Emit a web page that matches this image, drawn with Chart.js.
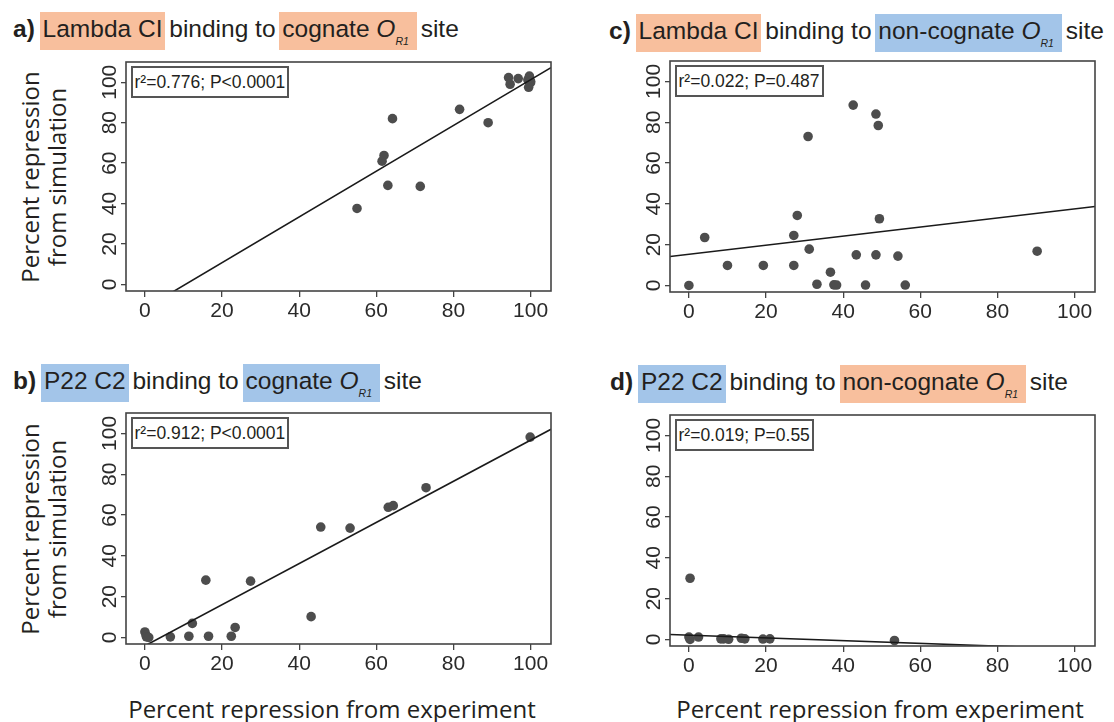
<!DOCTYPE html>
<html>
<head>
<meta charset="utf-8">
<script src="https://cdn.jsdelivr.net/npm/chart.js@4.4.0/dist/chart.umd.min.js"></script>
<style>
  body { margin: 0; background: #fff; width: 1114px; height: 722px; overflow: hidden; position: relative;
         font-family: "Liberation Sans", Arial, sans-serif; color: #231f20; }
  canvas { position: absolute; }
  .title { position: absolute; font-size: 24.5px; line-height: 30px; white-space: nowrap; }
  .title b { margin-right: 1px; }
  .hl { padding: 3px 3px 8px 3px; margin: 0 -3px; }
  .org { background: #f8bf9d; }
  .blu { background: #a3c5e9; }
  .title i { font-style: italic; }
  .title sub { font-size: 10.5px; font-style: italic; vertical-align: -8px; line-height: 0; margin-left: 0; padding-right: 5px; }
  .stat { position: absolute; border: 2px solid #555; font-size: 17.5px; height: 28px; line-height: 28px;
          padding: 0 2px; background: #fff; white-space: nowrap; }
  .ytitle { position: absolute; width: 260px; height: 54px; line-height: 27px; text-align: center;
            font-family: "Open Sans", sans-serif; font-size: 24px; transform: rotate(-90deg); color: #231f20; }
  .xtitle { position: absolute; width: 500px; line-height: 30px; text-align: center;
            font-family: "Open Sans", sans-serif; font-size: 24px; color: #231f20; }
</style>
</head>
<body>
<div class="title" style="left:13px;top:14px"><b>a)</b> <span class="hl org">Lambda CI</span> binding to <span class="hl org">cognate <i>O</i><sub>R1</sub></span> site</div>
<div class="title" style="left:609px;top:16px"><b>c)</b> <span class="hl org">Lambda CI</span> binding to <span class="hl blu">non-cognate <i>O</i><sub>R1</sub></span> site</div>
<div class="title" style="left:13px;top:366px"><b>b)</b> <span class="hl blu">P22 C2</span> binding to <span class="hl blu">cognate <i>O</i><sub>R1</sub></span> site</div>
<div class="title" style="left:610px;top:367px"><b>d)</b> <span class="hl blu">P22 C2</span> binding to <span class="hl org">non-cognate <i>O</i><sub>R1</sub></span> site</div>

<div class="ytitle" style="left:-87px;top:150px">Percent repression<br>from simulation</div>
<div class="ytitle" style="left:-87px;top:502px">Percent repression<br>from simulation</div>
<div class="xtitle" style="left:82px;top:694px">Percent repression from experiment</div>
<div class="xtitle" style="left:630px;top:694px">Percent repression from experiment</div>

<canvas id="ca"></canvas>
<canvas id="cb"></canvas>
<canvas id="cc"></canvas>
<canvas id="cd"></canvas>

<script>
// axis ticks (same on every panel)
const tickValues = [0, 20, 40, 60, 80, 100];
const tickLabels = ['0', '20', '40', '60', '80', '100'];

// a) Lambda CI binding to cognate OR1
const lambdaCognateExp = [55, 63, 64.2, 61.5, 62, 71.4, 81.6, 89, 94.3, 94.7, 96.8, 99.3, 99.7, 100, 99.5, 100];
const lambdaCognateSim = [37.6, 49, 82, 61, 63.8, 48.5, 86.6, 80, 102.3, 99, 101.8, 101.2, 103, 99.8, 97.5, 100.5];

// b) P22 C2 binding to cognate OR1
const p22CognateExp = [0, 0.3, 0.4, 1.0, 6.6, 11.4, 12.3, 15.8, 16.5, 22.4, 23.4, 27.4, 43.1, 45.6, 53.2, 63.1, 64.4, 72.9, 99.9];
const p22CognateSim = [2.7, 1.2, 0.3, 0, 0.3, 0.6, 6.9, 28.1, 0.6, 0.6, 4.9, 27.6, 10.2, 54.1, 53.6, 63.8, 64.6, 73.4, 98.2];

// c) Lambda CI binding to non-cognate OR1
const lambdaNonExp = [0, 4.1, 10, 19.3, 27.2, 27.2, 28.1, 30.9, 31.2, 33.2, 36.7, 37.6, 38.3, 42.6, 43.4, 45.8, 48.5, 49.1, 48.5, 49.4, 54.2, 56.1, 90.3];
const lambdaNonSim = [0, 23.5, 9.8, 9.8, 9.8, 24.5, 34.3, 73, 17.8, 0.6, 6.5, 0.3, 0.2, 88.4, 15, 0.2, 84, 78.4, 15, 32.7, 14.4, 0.2, 16.8];

// d) P22 C2 binding to non-cognate OR1
const p22NonExp = [0.3, 0, 0.3, 2.5, 8.3, 9, 10.3, 13.6, 14.5, 19.2, 21, 53.3];
const p22NonSim = [30, 1.2, 0, 1.2, 0.3, 0.3, 0.1, 0.6, 0.3, 0.2, 0.3, -0.5];

// regression lines (a, b, c, d)
const fitSlope = [1.13, 1.008, 0.2225, -0.067];
const fitIntercept = [-11.8, -4.1, 15.3, 2.1];
const statLabels = ['r\u00b2=0.776; P<0.0001', 'r\u00b2=0.912; P<0.0001', 'r\u00b2=0.022; P=0.487', 'r\u00b2=0.019; P=0.55'];

const xRange = [-4.9, 105.3];
const yRange = [-3.2, 110];

// plot boxes in page pixels
const boxes = [
  { id: 'ca', left: 126, top: 62, right: 551, bottom: 291 },
  { id: 'cb', left: 126, top: 413, right: 551, bottom: 644 },
  { id: 'cc', left: 670, top: 61, right: 1095, bottom: 292 },
  { id: 'cd', left: 670, top: 415, right: 1095, bottom: 646 }
];
const series = [
  [lambdaCognateExp, lambdaCognateSim],
  [p22CognateExp, p22CognateSim],
  [lambdaNonExp, lambdaNonSim],
  [p22NonExp, p22NonSim]
];

const Y_AXIS_W = 70, X_AXIS_H = 34, PAD_TOP = 15, PAD_RIGHT = 18;

Chart.defaults.font.family = '"Liberation Sans", Arial, sans-serif';

// R-style frame round the plot region
const frame = {
  id: 'frame',
  afterDraw(chart) {
    const { ctx, chartArea: a } = chart;
    ctx.save();
    ctx.strokeStyle = '#444';
    ctx.lineWidth = 1.6;
    ctx.strokeRect(a.left, a.top, a.right - a.left, a.bottom - a.top);
    ctx.restore();
  }
};

function setTicks(scale) {
  scale.ticks = tickValues.map(v => ({ value: v }));
}

function makePanel(i) {
  const b = boxes[i];
  const canvas = document.getElementById(b.id);
  canvas.width = b.right - b.left + Y_AXIS_W + PAD_RIGHT;
  canvas.height = b.bottom - b.top + PAD_TOP + X_AXIS_H;
  canvas.style.left = (b.left - Y_AXIS_W) + 'px';
  canvas.style.top = (b.top - PAD_TOP) + 'px';

  const [xs, ys] = series[i];
  const pts = xs.map((x, k) => ({ x: x, y: ys[k] }));
  const fit = [xRange[0], xRange[1]].map(x => ({ x: x, y: fitIntercept[i] + fitSlope[i] * x }));

  new Chart(canvas, {
    type: 'scatter',
    data: {
      datasets: [
        { type: 'line', data: fit, borderColor: '#1a1a1a', borderWidth: 1.6, pointRadius: 0, fill: false, order: 0 },
        { data: pts, backgroundColor: '#4d4d4d', borderWidth: 0, pointRadius: 4.8, order: 1 }
      ]
    },
    options: {
      responsive: false,
      animation: false,
      devicePixelRatio: 1,
      layout: { padding: { top: PAD_TOP, right: PAD_RIGHT, left: 0, bottom: 0 } },
      plugins: { legend: { display: false }, tooltip: { enabled: false } },
      scales: {
        x: {
          type: 'linear', min: xRange[0], max: xRange[1],
          afterBuildTicks: setTicks,
          afterFit: s => { s.height = X_AXIS_H; },
          border: { display: false },
          grid: { drawOnChartArea: false, drawTicks: true, tickLength: 6, color: '#444', lineWidth: 1.3 },
          ticks: { font: { size: 21 }, color: '#2a2a2a', padding: 2, maxRotation: 0,
                   callback: (v, k) => tickLabels[k] }
        },
        y: {
          type: 'linear', min: yRange[0], max: yRange[1],
          afterBuildTicks: setTicks,
          afterFit: s => { s.width = Y_AXIS_W; },
          border: { display: false },
          grid: { drawOnChartArea: false, drawTicks: true, tickLength: 5, color: '#444', lineWidth: 1.3 },
          ticks: { font: { size: 21 }, color: '#2a2a2a', padding: -6.5, minRotation: 90, maxRotation: 90,
                   crossAlign: 'center', callback: (v, k) => tickLabels[k] }
        }
      }
    },
    plugins: [frame]
  });

  const stat = document.createElement('div');
  stat.className = 'stat';
  stat.textContent = statLabels[i];
  stat.style.left = (b.left + 4.5) + 'px';
  stat.style.top = (b.top + 3.5) + 'px';
  document.body.appendChild(stat);
}

for (let i = 0; i < boxes.length; i++) makePanel(i);
</script>
</body>
</html>
